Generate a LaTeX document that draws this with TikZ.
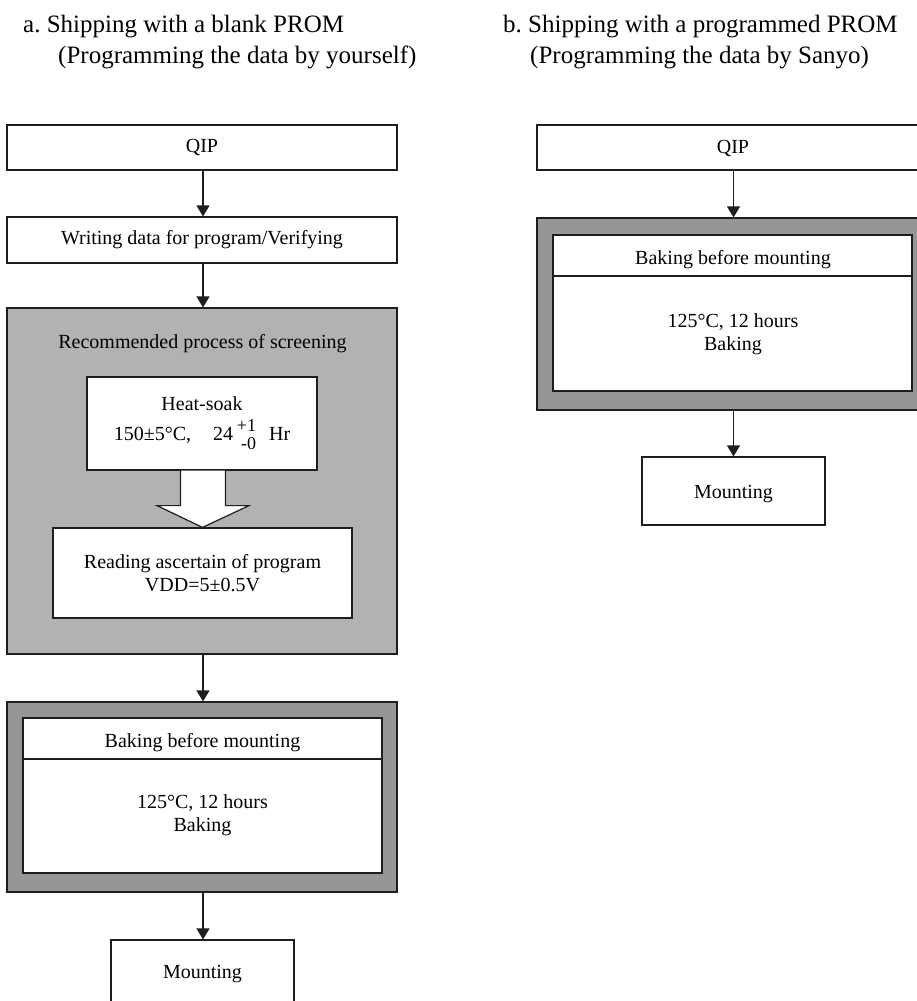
\documentclass[tikz,border=0pt]{standalone}
\usepackage{fontspec}
\setmainfont{Liberation Serif}
\usetikzlibrary{arrows.meta,calc}
\definecolor{screengray}{RGB}{178,178,178}
\definecolor{bakegray}{RGB}{150,150,150}
\definecolor{linecol}{RGB}{30,30,30}
\frenchspacing
\begin{document}
\begin{tikzpicture}[x=1pt,y=-1pt,
  txt/.style={font=\fontsize{20}{23}\selectfont, align=center, inner sep=0pt},
  box/.style={draw=linecol, line width=1.2pt, fill=white, inner sep=0pt},
  conn/.style={draw=linecol, line width=1.2pt, -{Triangle[length=11pt,width=13pt]}},
  ttl/.style={font=\fontsize{25}{31}\selectfont, anchor=base west, inner sep=0pt}]
\useasboundingbox (0,0) rectangle (917,1001);
\clip (0,0) rectangle (917,1001);
\fill[white] (0,0) rectangle (917,1001);

% titles
\node[ttl] (ta1) at (23,32) {a.\ Shipping with a blank PROM};
\node[ttl] (ta2) at (58,63) {(Programming the data by yourself)};
\node[ttl] (tb1) at (503,32) {b.\ Shipping with a programmed PROM};
\node[ttl] (tb2) at (530,63) {(Programming the data by Sanyo)};

% ---------- left column ----------
\node[box, txt, minimum width=390pt, minimum height=45pt] (qipA) at (202,147.5) {QIP};
\node[box, txt, minimum width=390pt, minimum height=46pt] (writeA) at (202,240) {Writing data for program/Verifying};

\node[box, fill=screengray, minimum width=390pt, minimum height=346pt] (scr) at (202,481) {};
\node[txt, anchor=base] (scrt) at (202.5,348) {Recommended process of screening};

\node[box, txt, minimum width=230pt, minimum height=93pt] (heat) at (202,423.5)
  {Heat-soak\\[7pt]150±5°C,\hspace{22pt}24\hspace{4pt}\makebox[19pt][r]{\raisebox{9pt}{\fontsize{18}{18}\selectfont +1}}\llap{\raisebox{-9pt}{\fontsize{18}{18}\selectfont -0}}\hspace{13pt}Hr};
\node[box, txt, minimum width=299pt, minimum height=90pt] (read) at (202.5,573)
  {Reading ascertain of program\\VDD=5±0.5V};

\draw[draw=linecol, line width=1.2pt, fill=white]
  ($(heat.south)+(-21.5,0)$) -- ($(heat.south)+(-21.5,35)$) -- ($(heat.south)+(-45,35)$)
  -- (read.north) -- ($(heat.south)+(47,35)$) -- ($(heat.south)+(23.5,35)$) -- ($(heat.south)+(23.5,0)$);

\node[box, fill=bakegray, minimum width=390pt, minimum height=190pt] (bakeA) at (202,797) {};
\node[box, minimum width=359pt, minimum height=155pt] (bakeAin) at (202.5,795.5) {};
\coordinate (dA) at (202.5,759);
\draw[draw=linecol, line width=1.2pt] (bakeAin.west |- dA) -- (bakeAin.east |- dA);
\node[txt, anchor=base] (bakeAh) at (202.5,747) {Baking before mounting};
\node[txt] (bakeAb) at (202.5,815) {125°C, 12 hours\\Baking};

\node[box, txt, minimum width=183pt, minimum height=68pt] (mountA) at (202.5,974) {Mounting};

\coordinate (colA) at (203,0);
\draw[conn] (qipA.south -| colA) -- (writeA.north -| colA);
\draw[conn] (writeA.south -| colA) -- (scr.north -| colA);
\draw[conn] (scr.south -| colA) -- (bakeA.north -| colA);
\draw[conn] (bakeA.south -| colA) -- (mountA.north -| colA);

% ---------- right column ----------
\node[box, minimum width=390pt, minimum height=45pt] (qipB) at (732,147.5) {};
\node[txt, anchor=base] (qipBt) at (733,153) {QIP};

\node[box, fill=bakegray, minimum width=390pt, minimum height=192pt] (bakeB) at (732,314) {};
\node[box, minimum width=359pt, minimum height=156pt] (bakeBin) at (732.5,313) {};
\coordinate (dB) at (732.5,276);
\draw[draw=linecol, line width=1.2pt] (bakeBin.west |- dB) -- (bakeBin.east |- dB);
\node[txt, anchor=base] (bakeBh) at (733,264) {Baking before mounting};
\node[txt] (bakeBb) at (733,334) {125°C, 12 hours\\Baking};

\node[box, minimum width=183pt, minimum height=68pt] (mountB) at (733.5,491) {};
\node[txt, anchor=base] (mountBt) at (733.5,498) {Mounting};

\coordinate (colB) at (733.5,0);
\draw[conn] (qipB.south -| colB) -- (bakeB.north -| colB);
\draw[conn] (bakeB.south -| colB) -- (mountB.north -| colB);
\end{tikzpicture}
\end{document}
